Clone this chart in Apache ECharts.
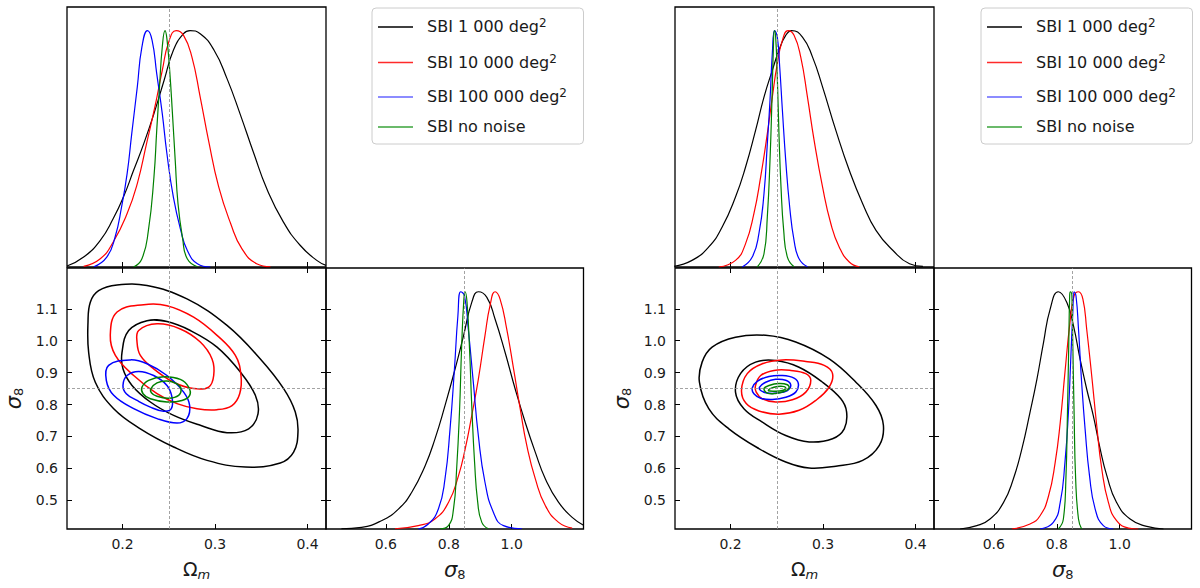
<!DOCTYPE html>
<html>
<head>
<meta charset="utf-8">
<script src="https://cdn.jsdelivr.net/npm/echarts@6/dist/echarts.min.js"></script>
<style>
  html, body { margin: 0; padding: 0; background: #fff; }
  #main { width: 1200px; height: 588px; }
</style>
</head>
<body>
<div id="main"></div>
<script>
// ---- labels, ranges, ticks
const runLabels = ['SBI 1 000 deg', 'SBI 10 000 deg', 'SBI 100 000 deg', 'SBI no noise'];
const runSup = ['2', '2', '2', ''];
const omegaRange = [0.14, 0.42];
const sigmaRange = [0.41, 1.228];
const densRange = [0, 1.1];
const omegaTicks = [0.2, 0.3, 0.4];
const sigmaTicksY = [0.5, 0.6, 0.7, 0.8, 0.9, 1.0, 1.1];
const sigmaTicksX = [0.6, 0.8, 1.0];
const trueOmega = 0.252;
const trueSigma = 0.853;

// ---- left figure: 1D posterior of Omega_m  [Omega_m, normalised density]
const omA_1k = [[0.140,0.004],[0.158,0.042],[0.176,0.113],[0.190,0.205],[0.201,0.296],[0.212,0.409],[0.223,0.522],[0.234,0.649],[0.245,0.790],[0.255,0.917],[0.266,0.987],[0.273,1.0],[0.284,0.987],[0.299,0.917],[0.313,0.797],[0.327,0.649],[0.342,0.480],[0.356,0.331],[0.374,0.190],[0.392,0.092],[0.410,0.028],[0.420,0.007]];
const omA_10k = [[0.158,0.003],[0.176,0.035],[0.190,0.106],[0.205,0.226],[0.216,0.353],[0.226,0.522],[0.235,0.677],[0.243,0.832],[0.250,0.952],[0.258,1.0],[0.266,0.980],[0.275,0.889],[0.284,0.719],[0.293,0.536],[0.304,0.339],[0.317,0.183],[0.329,0.078],[0.345,0.014],[0.360,0.001]];
const omA_100k = [[0.169,0.001],[0.183,0.042],[0.192,0.127],[0.199,0.254],[0.205,0.395],[0.210,0.564],[0.216,0.762],[0.221,0.931],[0.227,1.0],[0.232,0.959],[0.237,0.818],[0.243,0.649],[0.248,0.480],[0.255,0.296],[0.263,0.155],[0.270,0.071],[0.281,0.014],[0.295,0.0]];
const omA_nn = [[0.212,0.0],[0.221,0.035],[0.228,0.155],[0.234,0.381],[0.237,0.578],[0.240,0.762],[0.243,0.931],[0.246,1.0],[0.248,0.966],[0.251,0.832],[0.254,0.649],[0.257,0.451],[0.260,0.268],[0.265,0.120],[0.270,0.035],[0.281,0.001]];

// ---- left figure: 1D posterior of sigma_8
const s8A_1k = [[0.459,0.001],[0.523,0.007],[0.586,0.035],[0.640,0.084],[0.682,0.154],[0.725,0.267],[0.756,0.379],[0.788,0.520],[0.820,0.674],[0.847,0.815],[0.873,0.955],[0.894,1.0],[0.921,0.976],[0.947,0.885],[0.979,0.744],[1.011,0.590],[1.043,0.449],[1.075,0.323],[1.107,0.211],[1.149,0.112],[1.192,0.049],[1.228,0.016]];
const s8A_10k = [[0.629,0.001],[0.703,0.014],[0.756,0.042],[0.799,0.112],[0.831,0.225],[0.852,0.337],[0.873,0.478],[0.894,0.632],[0.915,0.815],[0.931,0.941],[0.947,1.0],[0.963,0.969],[0.984,0.843],[1.006,0.674],[1.027,0.506],[1.048,0.351],[1.075,0.211],[1.107,0.098],[1.149,0.028],[1.192,0.004]];
const s8A_100k = [[0.703,0.0],[0.735,0.021],[0.767,0.084],[0.788,0.211],[0.804,0.421],[0.818,0.674],[0.829,0.899],[0.838,1.0],[0.850,0.983],[0.862,0.843],[0.878,0.618],[0.894,0.393],[0.915,0.197],[0.942,0.070],[0.974,0.014],[1.032,0.001]];
const s8A_nn = [[0.772,0.0],[0.799,0.014],[0.815,0.084],[0.825,0.253],[0.834,0.492],[0.841,0.772],[0.848,0.969],[0.852,1.0],[0.858,0.955],[0.866,0.758],[0.873,0.520],[0.882,0.281],[0.892,0.112],[0.905,0.028],[0.926,0.001]];

// ---- left figure: 2D contours (outer / inner)  [Omega_m, sigma_8]
const ctA_1k_out = [[0.1627,1.058],[0.1652,1.121],[0.1742,1.157],[0.1941,1.175],[0.2265,1.173],[0.2697,1.131],[0.3130,1.048],[0.3490,0.943],[0.3742,0.850],[0.3868,0.777],[0.3897,0.714],[0.3850,0.651],[0.3706,0.617],[0.3328,0.604],[0.2914,0.625],[0.2553,0.667],[0.2193,0.724],[0.1905,0.787],[0.1706,0.870],[0.1634,0.964]];
const ctA_1k_in = [[0.1995,0.964],[0.2067,1.032],[0.2265,1.063],[0.2481,1.060],[0.2733,1.032],[0.3022,0.980],[0.3274,0.902],[0.3436,0.829],[0.3465,0.771],[0.3364,0.724],[0.3130,0.712],[0.2841,0.735],[0.2553,0.766],[0.2301,0.808],[0.2103,0.860],[0.2005,0.912]];
const ctA_10k_out = [[0.1868,1.017],[0.1941,1.090],[0.2229,1.113],[0.2481,1.110],[0.2769,1.074],[0.3022,1.017],[0.3220,0.954],[0.3281,0.891],[0.3267,0.834],[0.3184,0.797],[0.3022,0.784],[0.2805,0.787],[0.2589,0.803],[0.2373,0.834],[0.2121,0.891],[0.1923,0.954]];
const ctA_10k_in = [[0.2157,0.996],[0.2175,1.032],[0.2373,1.053],[0.2625,1.037],[0.2841,0.996],[0.2968,0.943],[0.2986,0.891],[0.2932,0.855],[0.2769,0.850],[0.2553,0.870],[0.2337,0.912],[0.2193,0.954]];
const ctA_100k_out = [[0.1825,0.876],[0.1850,0.923],[0.2085,0.940],[0.2265,0.928],[0.2481,0.891],[0.2661,0.839],[0.2726,0.797],[0.2697,0.756],[0.2589,0.742],[0.2373,0.756],[0.2121,0.787],[0.1905,0.829]];
const ctA_100k_in = [[0.2005,0.860],[0.2049,0.891],[0.2175,0.904],[0.2337,0.891],[0.2481,0.860],[0.2535,0.823],[0.2528,0.787],[0.2445,0.779],[0.2301,0.792],[0.2157,0.813],[0.2041,0.834]];
const ctA_nn_out = [[0.2211,0.855],[0.2283,0.876],[0.2445,0.887],[0.2625,0.879],[0.2715,0.855],[0.2726,0.829],[0.2643,0.813],[0.2481,0.808],[0.2301,0.818],[0.2222,0.834]];
const ctA_nn_in = [[0.2308,0.850],[0.2373,0.868],[0.2481,0.874],[0.2589,0.865],[0.2632,0.850],[0.2607,0.829],[0.2499,0.820],[0.2373,0.826],[0.2312,0.837]];

// ---- right figure: 1D posterior of Omega_m
const omB_1k = [[0.1385,0.003],[0.1584,0.028],[0.1765,0.085],[0.1910,0.169],[0.2054,0.296],[0.2163,0.423],[0.2271,0.578],[0.2362,0.719],[0.2452,0.832],[0.2524,0.917],[0.2597,0.980],[0.2662,1.0],[0.2778,0.973],[0.2886,0.889],[0.2995,0.762],[0.3139,0.578],[0.3284,0.409],[0.3429,0.268],[0.3573,0.155],[0.3754,0.071],[0.3935,0.014],[0.4080,0.003]];
const omB_10k = [[0.1873,0.0],[0.2054,0.028],[0.2163,0.099],[0.2253,0.226],[0.2326,0.381],[0.2398,0.564],[0.2452,0.719],[0.2506,0.860],[0.2561,0.959],[0.2622,1.0],[0.2687,0.980],[0.2759,0.889],[0.2832,0.719],[0.2904,0.536],[0.2995,0.339],[0.3085,0.183],[0.3175,0.085],[0.3284,0.021],[0.3392,0.001]];
const omB_100k = [[0.2127,0.0],[0.2235,0.042],[0.2307,0.141],[0.2362,0.310],[0.2398,0.522],[0.2427,0.705],[0.2452,0.903],[0.2477,1.0],[0.2506,0.973],[0.2532,0.846],[0.2561,0.663],[0.2597,0.451],[0.2640,0.254],[0.2687,0.113],[0.2741,0.035],[0.2832,0.001]];
const omB_nn = [[0.2289,0.0],[0.2362,0.056],[0.2398,0.212],[0.2427,0.451],[0.2448,0.705],[0.2463,0.917],[0.2474,1.0],[0.2488,0.973],[0.2506,0.804],[0.2524,0.564],[0.2546,0.339],[0.2575,0.155],[0.2615,0.042],[0.2687,0.001]];

// ---- right figure: 1D posterior of sigma_8
const s8B_1k = [[0.493,0.0],[0.546,0.014],[0.588,0.042],[0.631,0.112],[0.662,0.211],[0.689,0.337],[0.715,0.492],[0.737,0.632],[0.758,0.787],[0.779,0.927],[0.805,1.0],[0.832,0.955],[0.853,0.857],[0.874,0.716],[0.895,0.590],[0.916,0.478],[0.938,0.337],[0.959,0.225],[0.990,0.112],[1.033,0.042],[1.086,0.011],[1.139,0.0]];
const s8B_10k = [[0.657,0.0],[0.715,0.021],[0.747,0.056],[0.774,0.140],[0.795,0.281],[0.811,0.449],[0.826,0.660],[0.842,0.871],[0.855,0.983],[0.869,1.0],[0.883,0.969],[0.895,0.843],[0.911,0.646],[0.927,0.435],[0.943,0.253],[0.964,0.112],[0.990,0.035],[1.028,0.004],[1.059,0.0]];
const s8B_100k = [[0.747,0.0],[0.789,0.028],[0.811,0.112],[0.826,0.281],[0.837,0.492],[0.844,0.702],[0.851,0.913],[0.855,1.0],[0.861,0.983],[0.869,0.843],[0.879,0.618],[0.890,0.421],[0.904,0.225],[0.922,0.084],[0.948,0.014],[0.980,0.0]];
const s8B_nn = [[0.805,0.0],[0.821,0.042],[0.829,0.211],[0.834,0.492],[0.838,0.772],[0.841,0.983],[0.843,1.0],[0.848,0.983],[0.851,0.772],[0.855,0.492],[0.860,0.211],[0.869,0.042],[0.879,0.0]];

// ---- right figure: 2D contours
const ctB_1k_out = [[0.1664,0.870],[0.1693,0.933],[0.1801,0.980],[0.2054,1.011],[0.2380,1.017],[0.2705,0.996],[0.3067,0.943],[0.3356,0.870],[0.3573,0.797],[0.3653,0.735],[0.3609,0.672],[0.3429,0.625],[0.3139,0.607],[0.2850,0.601],[0.2597,0.620],[0.2307,0.662],[0.1982,0.724],[0.1765,0.787]];
const ctB_1k_in = [[0.2054,0.839],[0.2108,0.897],[0.2271,0.933],[0.2488,0.938],[0.2741,0.917],[0.2995,0.870],[0.3193,0.818],[0.3255,0.777],[0.3230,0.724],[0.3103,0.693],[0.2850,0.683],[0.2597,0.703],[0.2344,0.745],[0.2145,0.787]];
const ctB_10k_out = [[0.2119,0.844],[0.2181,0.897],[0.2344,0.928],[0.2561,0.940],[0.2814,0.935],[0.3013,0.923],[0.3103,0.897],[0.3067,0.855],[0.2922,0.813],[0.2741,0.782],[0.2524,0.770],[0.2307,0.780],[0.2170,0.803]];
const ctB_10k_in = [[0.2271,0.860],[0.2326,0.891],[0.2470,0.907],[0.2651,0.907],[0.2814,0.897],[0.2868,0.876],[0.2814,0.839],[0.2669,0.815],[0.2488,0.808],[0.2344,0.818],[0.2278,0.839]];
const ctB_100k_out = [[0.2235,0.852],[0.2289,0.873],[0.2416,0.888],[0.2561,0.891],[0.2687,0.883],[0.2734,0.865],[0.2705,0.839],[0.2597,0.823],[0.2452,0.816],[0.2326,0.820],[0.2253,0.834]];
const ctB_100k_in = [[0.2315,0.855],[0.2380,0.870],[0.2488,0.879],[0.2597,0.876],[0.2651,0.862],[0.2615,0.844],[0.2506,0.836],[0.2398,0.836],[0.2326,0.844]];
const ctB_nn_out = [[0.2362,0.850],[0.2416,0.860],[0.2524,0.866],[0.2615,0.862],[0.2633,0.852],[0.2590,0.842],[0.2488,0.835],[0.2398,0.836]];
const ctB_nn_in = [[0.2409,0.844],[0.2470,0.854],[0.2561,0.857],[0.2597,0.852],[0.2561,0.844],[0.2470,0.842]];

// ---- styling / layout
const colors = ['#000000', '#ff0000', '#0000ff', '#008000'];
const legendColors = ['#000000', '#ff2a2a', '#6666ff', '#3aa33a'];
const FONT = 'DejaVu Sans';
const TXT = '#1a1a1a';

const figures = [
  { x0: 67, legendX: 371.5,
    top: [omA_1k, omA_10k, omA_100k, omA_nn],
    side: [s8A_1k, s8A_10k, s8A_100k, s8A_nn],
    rings: [[ctA_1k_out, ctA_1k_in], [ctA_10k_out, ctA_10k_in], [ctA_100k_out, ctA_100k_in], [ctA_nn_out, ctA_nn_in]] },
  { x0: 675, legendX: 980.5,
    top: [omB_1k, omB_10k, omB_100k, omB_nn],
    side: [s8B_1k, s8B_10k, s8B_100k, s8B_nn],
    rings: [[ctB_1k_out, ctB_1k_in], [ctB_10k_out, ctB_10k_in], [ctB_100k_out, ctB_100k_in], [ctB_nn_out, ctB_nn_in]] }
];

const chart = echarts.init(document.getElementById('main'), null, { renderer: 'svg' });

const tick = (vals) => ({ show: true, inside: true, length: 5, customValues: vals, lineStyle: { color: '#000', width: 1 } });
const label = (vals, margin) => ({ show: true, customValues: vals, margin: margin, fontSize: 14, color: TXT, fontFamily: FONT, formatter: v => v.toFixed(1) });
const frame = { show: true, borderColor: '#000', borderWidth: 1.3, backgroundColor: 'transparent' };

function axis(gridIndex, range, extra) {
  return Object.assign({
    type: 'value', gridIndex, min: range[0], max: range[1],
    axisLine: { show: false }, splitLine: { show: false },
    axisTick: { show: false }, axisLabel: { show: false }
  }, extra || {});
}

const omegaName = {
  name: '{o|Ω}{m|m}', nameLocation: 'middle', nameGap: 30,
  nameTextStyle: { rich: {
    o: { fontSize: 19, lineHeight: 22, verticalAlign: 'top', color: TXT, fontFamily: FONT },
    m: { fontSize: 13, lineHeight: 18, padding: [8, 0, 0, 0], verticalAlign: 'bottom', fontStyle: 'italic', color: TXT, fontFamily: FONT }
  } }
};
const sigmaRich = {
  s: { fontSize: 21, lineHeight: 22, verticalAlign: 'top', fontStyle: 'italic', color: TXT, fontFamily: FONT },
  n: { fontSize: 13, lineHeight: 18, padding: [8, 0, 0, 0], verticalAlign: 'bottom', color: TXT, fontFamily: FONT }
};

const refLine = (data) => ({
  silent: true, symbol: ['none', 'none'], label: { show: false },
  lineStyle: { color: '#8c8c8c', type: [3, 2], width: 0.8 }, data: data
});

const grids = [], xAxes = [], yAxes = [], series = [], graphics = [];

figures.forEach((F) => {
  const g = grids.length, xi = xAxes.length, yi = yAxes.length;
  grids.push(Object.assign({ left: F.x0, top: 7, width: 259, height: 260 }, frame));
  grids.push(Object.assign({ left: F.x0, top: 268, width: 259, height: 261 }, frame));
  grids.push(Object.assign({ left: F.x0 + 259, top: 268, width: 257.5, height: 261 }, frame));

  // x axes
  xAxes.push(axis(g, omegaRange, { axisTick: tick(omegaTicks) }));
  xAxes.push(axis(g + 1, omegaRange, Object.assign({ axisTick: tick(omegaTicks), axisLabel: label(omegaTicks, 8) }, omegaName)));
  xAxes.push(axis(g + 1, omegaRange, { position: 'top', axisTick: tick(omegaTicks) }));
  xAxes.push(axis(g + 2, sigmaRange, {
    axisTick: tick(sigmaTicksX), axisLabel: label(sigmaTicksX, 8),
    name: '{s|σ}{n|8}', nameLocation: 'middle', nameGap: 30, nameTextStyle: { rich: sigmaRich }
  }));
  // y axes
  yAxes.push(axis(g, densRange));
  yAxes.push(axis(g + 1, sigmaRange, {
    position: 'left', axisTick: tick(sigmaTicksY), axisLabel: label(sigmaTicksY, 9),
    name: '{s|σ}{n|8}', nameLocation: 'middle', nameGap: 42, nameRotate: 90, nameTextStyle: { rich: sigmaRich }
  }));
  yAxes.push(axis(g + 1, sigmaRange, { position: 'right', axisTick: tick(sigmaTicksY) }));
  yAxes.push(axis(g + 2, densRange, { position: 'right' }));
  yAxes.push(axis(g + 2, sigmaRange, { position: 'left', axisTick: tick(sigmaTicksY) }));

  // 1D curves
  F.top.forEach((d, i) => series.push({
    type: 'line', name: runLabels[i], data: d, xAxisIndex: xi, yAxisIndex: yi,
    smooth: 0.5, showSymbol: false, symbol: 'none',
    lineStyle: { color: colors[i], width: 1.2 }, itemStyle: { color: colors[i] }, z: 3,
    markLine: i === 0 ? refLine([{ xAxis: trueOmega }]) : undefined
  }));
  F.side.forEach((d, i) => series.push({
    type: 'line', name: runLabels[i], data: d, xAxisIndex: xi + 3, yAxisIndex: yi + 3,
    smooth: 0.5, showSymbol: false, symbol: 'none',
    lineStyle: { color: colors[i], width: 1.2 }, itemStyle: { color: colors[i] }, z: 3,
    markLine: i === 0 ? refLine([{ xAxis: trueSigma }]) : undefined
  }));

  // truth cross-hair in the 2D panel
  series.push({
    type: 'line', name: 'truth', data: [[trueOmega, trueSigma]], xAxisIndex: xi + 1, yAxisIndex: yi + 1,
    showSymbol: false, symbol: 'none', lineStyle: { width: 0 }, z: 1,
    markLine: refLine([{ xAxis: trueOmega }, { yAxis: trueSigma }])
  });

  // 2D contours
  F.rings.forEach((pair, i) => series.push({
    type: 'custom', name: runLabels[i], xAxisIndex: xi + 1, yAxisIndex: yi + 1,
    data: pair.map(r => r[0]), encode: { x: 0, y: 1 }, z: 4, silent: true,
    renderItem: (params, api) => ({
      type: 'polygon',
      shape: { points: pair[params.dataIndex].map(p => api.coord(p)), smooth: 0.4 },
      style: { fill: 'none', stroke: colors[i], lineWidth: 1.5 }
    })
  }));

  // legend box
  const lx = F.legendX, ly = 7.5;
  const rowY = [19.4, 55, 89.4, 119.4];
  graphics.push({ type: 'rect', left: lx, top: ly, z: 10,
    shape: { width: 211.5, height: 136, r: 4 }, style: { fill: '#fff', stroke: '#cccccc', lineWidth: 1 } });
  runLabels.forEach((t, i) => {
    graphics.push({ type: 'line', z: 11,
      shape: { x1: lx + 6.5, y1: ly + rowY[i], x2: lx + 41.5, y2: ly + rowY[i] },
      style: { stroke: legendColors[i], lineWidth: 1.5 } });
    graphics.push({ type: 'text', z: 11, x: lx + 55.5, y: ly + rowY[i],
      style: {
        text: runSup[i] ? '{t|' + t + '}{u|' + runSup[i] + '}' : '{t|' + t + '}',
        verticalAlign: 'middle', align: 'left',
        rich: {
          t: { fontSize: 16, lineHeight: 20, fontFamily: FONT, fill: TXT },
          u: { fontSize: 12, lineHeight: 16, verticalAlign: 'top', fontFamily: FONT, fill: TXT }
        }
      } });
  });
});

chart.setOption({
  animation: false,
  backgroundColor: '#ffffff',
  textStyle: { fontFamily: FONT },
  grid: grids,
  xAxis: xAxes,
  yAxis: yAxes,
  series: series,
  graphic: graphics
});
</script>
</body>
</html>
